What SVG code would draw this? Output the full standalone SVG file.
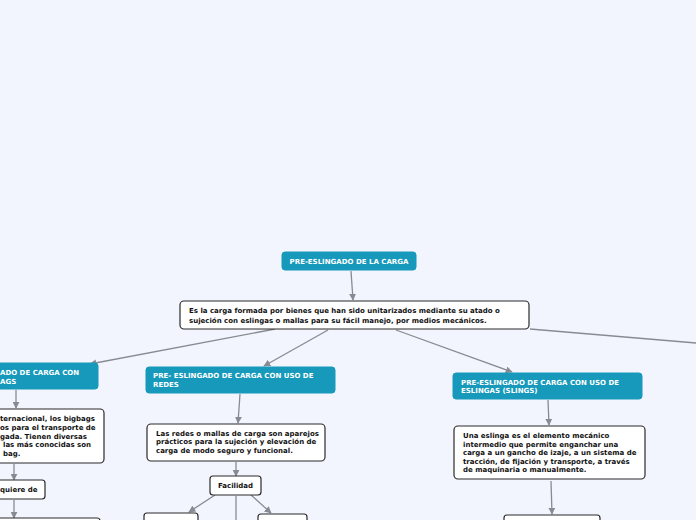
<svg xmlns="http://www.w3.org/2000/svg" width="696" height="520" viewBox="0 0 696 520">
<defs>
<marker id="ah" viewBox="0 0 10 10" refX="9" refY="5" markerWidth="7" markerHeight="7" orient="auto" markerUnits="userSpaceOnUse">
<path d="M0,0 L10,5 L0,10 z" fill="#868b92"/>
</marker>
<style>
.bg{fill:#f3f5fe}
.conn{stroke:#868b92;stroke-width:1.3;fill:none}
.arr{marker-end:url(#ah)}
.teal{fill:#1699ba;stroke:#1699ba;stroke-width:1}
.box{fill:#ffffff;stroke:#2a2a2a;stroke-width:1.2}
.tw{font-family:"DejaVu Sans",Verdana,sans-serif;font-weight:bold;font-size:7px;fill:#ffffff}
.tb{font-family:"DejaVu Sans",Verdana,sans-serif;font-weight:bold;font-size:7px;fill:#111111}
</style>
</defs>
<rect class="bg" x="0" y="0" width="696" height="520"/>
<g id="connectors">
<line class="conn arr" x1="351" y1="271" x2="353" y2="300"/>
<line class="conn arr" x1="275" y1="329" x2="90" y2="364"/>
<line class="conn arr" x1="328" y1="330" x2="264" y2="366"/>
<line class="conn arr" x1="396" y1="330" x2="512" y2="372"/>
<line class="conn" x1="530" y1="329" x2="696" y2="343"/>
<line class="conn arr" x1="16" y1="390" x2="16" y2="408"/>
<line class="conn arr" x1="14" y1="464" x2="14" y2="480"/>
<line class="conn arr" x1="14" y1="500" x2="14" y2="518"/>
<line class="conn arr" x1="240" y1="394" x2="238" y2="423"/>
<line class="conn arr" x1="236" y1="462" x2="236" y2="476"/>
<line class="conn arr" x1="215" y1="495" x2="189" y2="512"/>
<line class="conn arr" x1="251" y1="495" x2="271" y2="513"/>
<line class="conn" x1="236" y1="496" x2="236" y2="520"/>
<line class="conn arr" x1="548" y1="400" x2="549" y2="425"/>
<line class="conn arr" x1="551" y1="481" x2="552" y2="514"/>
</g>
<g id="root">
<rect class="teal" x="282" y="252" width="134" height="18" rx="3"/>
<text class="tw" x="349" y="264" text-anchor="middle">PRE-ESLINGADO DE LA CARGA</text>
</g>
<g id="main">
<rect class="box" x="180" y="301" width="349" height="28" rx="4"/>
<text class="tb" x="189" y="313">Es la carga formada por bienes que han sido unitarizados mediante su atado o</text>
<text class="tb" x="189" y="323">sujeción con eslingas o mallas para su fácil manejo, por medios mecánicos.</text>
</g>
<g id="bigbags">
<rect class="teal" x="-10" y="363" width="108" height="26" rx="3"/>
<text class="tw" x="0" y="375">ADO DE CARGA CON</text>
<text class="tw" x="0" y="384">AGS</text>
</g>
<g id="bigbags-desc">
<rect class="box" x="-10" y="409" width="114" height="54" rx="4"/>
<text class="tb" x="0" y="421">ternacional, los bigbags</text>
<text class="tb" x="0" y="430">os para el transporte de</text>
<text class="tb" x="0" y="439">gada. Tienen diversas</text>
<text class="tb" x="3" y="447">las más conocidas son</text>
<text class="tb" x="3" y="456">bag.</text>
</g>
<g id="requiere">
<rect class="box" x="-10" y="480" width="55" height="19" rx="3"/>
<text class="tb" x="0" y="492">quiere de</text>
</g>
<g id="bigbags-next">
<rect class="box" x="-10" y="518" width="110" height="10" rx="3"/>
</g>
<g id="redes">
<rect class="teal" x="146" y="367" width="189" height="26" rx="3"/>
<text class="tw" x="153" y="378">PRE- ESLINGADO DE CARGA CON USO DE</text>
<text class="tw" x="153" y="387">REDES</text>
</g>
<g id="redes-desc">
<rect class="box" x="147" y="424" width="178" height="37" rx="4"/>
<text class="tb" x="156" y="436">Las redes o mallas de carga son aparejos</text>
<text class="tb" x="156" y="444">prácticos para la sujeción y elevación de</text>
<text class="tb" x="156" y="453">carga de modo seguro y funcional.</text>
</g>
<g id="facilidad">
<rect class="box" x="210" y="476" width="51" height="19" rx="3"/>
<text class="tb" x="235.5" y="488" text-anchor="middle">Facilidad</text>
</g>
<g id="facilidad-left">
<rect class="box" x="144" y="513" width="54" height="15" rx="3"/>
</g>
<g id="facilidad-right">
<rect class="box" x="258" y="514" width="49" height="15" rx="3"/>
</g>
<g id="eslingas">
<rect class="teal" x="453" y="373" width="189" height="26" rx="3"/>
<text class="tw" x="461" y="385">PRE-ESLINGADO DE CARGA CON USO DE</text>
<text class="tw" x="461" y="393">ESLINGAS (SLINGS)</text>
</g>
<g id="eslingas-desc">
<rect class="box" x="454" y="426" width="191" height="53" rx="4"/>
<text class="tb" x="463" y="438">Una eslinga es el elemento mecánico</text>
<text class="tb" x="463" y="447">intermedio que permite enganchar una</text>
<text class="tb" x="463" y="455">carga a un gancho de izaje, a un sistema de</text>
<text class="tb" x="463" y="464">tracción, de fijación y transporte, a través</text>
<text class="tb" x="463" y="472">de maquinaria o manualmente.</text>
</g>
<g id="eslingas-next">
<rect class="box" x="504" y="515" width="96" height="15" rx="3"/>
</g>
</svg>
